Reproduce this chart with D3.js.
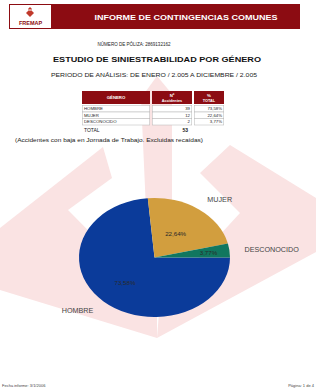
<!DOCTYPE html>
<html>
<head>
<meta charset="utf-8">
<title>Estudio de siniestrabilidad por género</title>
<script src="https://d3js.org/d3.v7.min.js"></script>
<style>
  body { margin: 0; background: #fff; }
  svg { display: block; font-family: "Liberation Sans", Arial, sans-serif; }
</style>
</head>
<body>
<svg width="316" height="389"></svg>
<script>
// data
var generos = ["HOMBRE", "MUJER", "DESCONOCIDO"];
var accidentes = [39, 12, 2];
var porcentajes = ["73,58%", "22,64%", "3,77%"];
var total = 53;
var colores = ["#0b3b9a", "#d29e3e", "#11775f"];

var svg = d3.select("svg");
var granate = "#8c0c12";

// watermark (FREMAP logo in light pink)
var marca = svg.append("g").attr("fill", "#fae3e3");
[
  [[103,147],[112,178],[68,210],[157,300],[157,338],[0,290],[0,228]],
  [[141,98],[157,76],[172,94],[172,210],[146,210]],
  [[230,145],[316,198],[316,252],[157,338],[160,300],[240,213],[200,173]]
].forEach(function(p) {
  marca.append("path").attr("d", d3.line()(p) + "Z");
});

// header
svg.append("rect").attr("x", 9.5).attr("y", 4.5).attr("width", 42).attr("height", 24)
  .attr("fill", "#fff").attr("stroke", granate).attr("stroke-width", 1);
svg.append("path").attr("fill", "#c0392b")
  .attr("d", "M30,9 L34,13 L30,17 L26,13 Z M28,9 L30,11 L32,9 L30,7 Z");
svg.append("text").attr("x", 30.5).attr("y", 25).attr("text-anchor", "middle")
  .attr("font-size", 5.5).attr("font-weight", "bold").attr("fill", granate).text("FREMAP");
svg.append("rect").attr("x", 52).attr("y", 4).attr("width", 248).attr("height", 25).attr("fill", granate);
svg.append("text").attr("x", 186).attr("y", 20).attr("text-anchor", "middle")
  .attr("font-size", 8).attr("font-weight", "bold").attr("fill", "#fff")
  .attr("textLength", 183).attr("lengthAdjust", "spacingAndGlyphs")
  .text("INFORME DE CONTINGENCIAS COMUNES");

svg.append("text").attr("x", 134).attr("y", 45.5).attr("text-anchor", "middle")
  .attr("font-size", 4.5).attr("fill", "#222")
  .attr("textLength", 73).attr("lengthAdjust", "spacingAndGlyphs")
  .text("NÚMERO DE PÓLIZA: 2869132162");
svg.append("text").attr("x", 157).attr("y", 62).attr("text-anchor", "middle")
  .attr("font-size", 7.5).attr("font-weight", "bold").attr("fill", "#111")
  .attr("textLength", 208).attr("lengthAdjust", "spacingAndGlyphs")
  .text("ESTUDIO DE SINIESTRABILIDAD POR GÉNERO");
svg.append("text").attr("x", 154).attr("y", 76.5).attr("text-anchor", "middle")
  .attr("font-size", 5).attr("fill", "#222")
  .attr("textLength", 206).attr("lengthAdjust", "spacingAndGlyphs")
  .text("PERIODO DE ANÁLISIS: DE  ENERO / 2.005 A  DICIEMBRE / 2.005");

// table
var cols = [{x: 82, w: 68}, {x: 152, w: 40}, {x: 194, w: 30}];
var tabla = svg.append("g").attr("font-size", 4.3).attr("fill", "#222");
cols.forEach(function(c) {
  tabla.append("rect").attr("x", c.x).attr("y", 91).attr("width", c.w).attr("height", 13).attr("fill", granate);
});
tabla.append("text").attr("x", 116).attr("y", 99).attr("text-anchor", "middle")
  .attr("fill", "#fff").attr("font-weight", "bold").text("GÉNERO");
tabla.append("text").attr("x", 172).attr("y", 96.5).attr("text-anchor", "middle")
  .attr("fill", "#fff").attr("font-weight", "bold").text("Nº");
tabla.append("text").attr("x", 172).attr("y", 101.5).attr("text-anchor", "middle")
  .attr("fill", "#fff").attr("font-weight", "bold").attr("font-size", 3.8).text("Accidentes");
tabla.append("text").attr("x", 209).attr("y", 96.5).attr("text-anchor", "middle")
  .attr("fill", "#fff").attr("font-weight", "bold").text("%");
tabla.append("text").attr("x", 209).attr("y", 101.5).attr("text-anchor", "middle")
  .attr("fill", "#fff").attr("font-weight", "bold").attr("font-size", 3.8).text("TOTAL");

var rowY = d3.scaleBand().domain(generos).range([105.5, 125]);
generos.forEach(function(g, i) {
  var y = rowY(g), h = rowY.bandwidth();
  cols.forEach(function(c) {
    tabla.append("rect").attr("x", c.x + 0.25).attr("y", y).attr("width", c.w - 0.5).attr("height", h)
      .attr("fill", "#fff").attr("stroke", "#b5b5b5").attr("stroke-width", 0.5);
  });
  tabla.append("text").attr("x", 84).attr("y", y + h - 1.8).text(g);
  tabla.append("text").attr("x", 190).attr("y", y + h - 1.8).attr("text-anchor", "end").text(accidentes[i]);
  tabla.append("text").attr("x", 222).attr("y", y + h - 1.8).attr("text-anchor", "end").text(porcentajes[i]);
});
tabla.append("text").attr("x", 84).attr("y", 132).attr("font-size", 5).text("TOTAL");
tabla.append("text").attr("x", 188).attr("y", 132).attr("font-size", 5).attr("text-anchor", "end")
  .attr("font-weight", "bold").text(total);

svg.append("text").attr("x", 15).attr("y", 141.5).attr("font-size", 4.6).attr("fill", "#222")
  .attr("textLength", 188).attr("lengthAdjust", "spacingAndGlyphs")
  .text("(Accidentes con baja en Jornada de Trabajo. Excluidas recaídas)");

// pie, tilted into an ellipse
var cx = 154.5, cy = 257.5, rx = 75.5, ry = 59.5;
var pie = d3.pie().sort(null).startAngle(Math.PI / 2).endAngle(Math.PI / 2 + 2 * Math.PI);
var arcs = pie(accidentes);
var arc = d3.arc().innerRadius(0).outerRadius(rx);

var tarta = svg.append("g")
  .attr("transform", "translate(" + cx + "," + cy + ") scale(1," + (ry / rx) + ")");
tarta.selectAll("path").data(arcs).enter().append("path")
  .attr("d", arc)
  .attr("fill", function(d, i) { return colores[i]; });

function punto(a, f) {
  return [cx + rx * f * Math.sin(a), cy - ry * f * Math.cos(a)];
}
var fInterior = [0.58, 0.48, 0.72];
arcs.forEach(function(d, i) {
  var mid = (d.startAngle + d.endAngle) / 2;
  var p = punto(mid, fInterior[i]);
  svg.append("text").attr("x", p[0]).attr("y", p[1]).attr("dy", "0.35em")
    .attr("text-anchor", "middle").attr("font-size", 6.2).attr("fill", "#2a2a2a")
    .text(porcentajes[i]);
  var q = punto(mid, 1.2);
  svg.append("text").attr("x", q[0]).attr("y", q[1]).attr("dy", "0.35em")
    .attr("text-anchor", Math.sin(mid) > 0 ? "start" : "end")
    .attr("font-size", 7.2).attr("fill", "#444")
    .text(generos[i]);
});

// footer
svg.append("text").attr("x", 2).attr("y", 387).attr("font-size", 4).attr("fill", "#444")
  .text("Fecha informe: 3/1/2006");
svg.append("text").attr("x", 314).attr("y", 387).attr("font-size", 4).attr("fill", "#444")
  .attr("text-anchor", "end").text("Página: 1 de 4");
</script>
</body>
</html>
